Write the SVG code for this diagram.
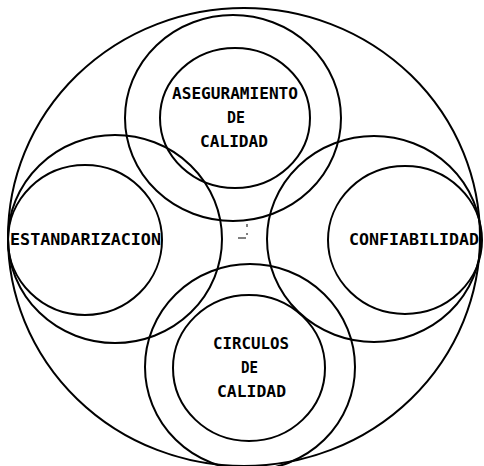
<svg xmlns="http://www.w3.org/2000/svg" width="484" height="466" viewBox="0 0 484 466">
<style>
.c{fill:none;stroke:#000;stroke-width:2}
.t{font-family:"DejaVu Sans Mono","Liberation Mono",monospace;font-weight:bold;font-size:16px;fill:#000}
</style>
<rect width="484" height="466" fill="#fff"/>
<g id="outer"><ellipse class="c" cx="244" cy="237" rx="236" ry="229"/></g>
<g id="aseguramiento">
<ellipse class="c" cx="233" cy="118" rx="108" ry="103"/>
<ellipse class="c" cx="235" cy="118" rx="75" ry="70"/>
<text class="t" x="172" y="99" textLength="126" lengthAdjust="spacingAndGlyphs">ASEGURAMIENTO</text>
<text class="t" x="227" y="123" textLength="18" lengthAdjust="spacingAndGlyphs">DE</text>
<text class="t" x="200" y="147" textLength="68" lengthAdjust="spacingAndGlyphs">CALIDAD</text>
</g>
<g id="estandarizacion">
<ellipse class="c" cx="115" cy="239" rx="107" ry="104"/>
<ellipse class="c" cx="85" cy="240" rx="77" ry="75"/>
<text class="t" x="10" y="245" textLength="151" lengthAdjust="spacingAndGlyphs">ESTANDARIZACION</text>
</g>
<g id="confiabilidad">
<ellipse class="c" cx="374" cy="239" rx="107" ry="103"/>
<ellipse class="c" cx="405" cy="240" rx="77" ry="74"/>
<text class="t" x="349" y="245" textLength="130" lengthAdjust="spacingAndGlyphs">CONFIABILIDAD</text>
</g>
<g id="circulos">
<ellipse class="c" cx="250" cy="367" rx="105" ry="103"/>
<ellipse class="c" cx="249" cy="368" rx="76" ry="73"/>
<text class="t" x="213" y="349" textLength="76" lengthAdjust="spacingAndGlyphs">CIRCULOS</text>
<text class="t" x="241" y="373" textLength="17" lengthAdjust="spacingAndGlyphs">DE</text>
<text class="t" x="217" y="397" textLength="69" lengthAdjust="spacingAndGlyphs">CALIDAD</text>
</g>
<g id="connectors">
<path d="M247 224v3M247 233v2M238 238h8" stroke="#000" stroke-width="1" fill="none"/>
</g>
</svg>
